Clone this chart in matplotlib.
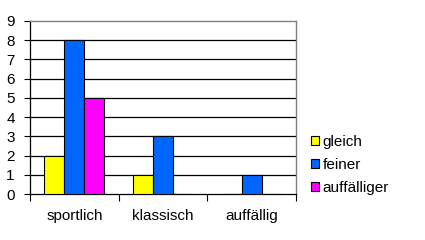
import matplotlib
matplotlib.use("Agg")
import matplotlib.pyplot as plt
import numpy as np
from matplotlib.patches import Patch

categories = ["sportlich", "klassisch", "auffällig"]
series_names = ["gleich", "feiner", "auffälliger"]
gleich = [2, 1, 0]
feiner = [8, 3, 1]
auffaelliger = [5, 0, 0]
values = [gleich, feiner, auffaelliger]
colors = ["#FFFF00", "#0066FF", "#FF00FF"]

plt.rcParams["font.family"] = ["Liberation Sans", "DejaVu Sans"]
fs = 11

fig = plt.figure(figsize=(4.25, 2.4), dpi=100)
ax = fig.add_axes([30/425, 1-194/240, 266/425, 173/240])

x = np.arange(len(categories))
w = 0.225
for i, (vals, c) in enumerate(zip(values, colors)):
    ax.bar(x + (i - 1) * w, vals, width=w, color=c, edgecolor="black", linewidth=0.8, zorder=3)

ax.set_xlim(-0.5, 2.5)
ax.set_ylim(0, 9)
ax.set_yticks(range(0, 10))
ax.tick_params(axis="y", labelsize=fs, length=4, width=0.8, pad=7)
ax.set_xticks(x)
ax.set_xticklabels(categories, fontsize=fs)
ax.tick_params(axis="x", which="major", length=0, pad=11)
ax.set_xticks([-0.5, 0.5, 1.5, 2.5], minor=True)
ax.tick_params(axis="x", which="minor", length=5, width=0.8)

for yv in range(1, 9):
    ax.axhline(yv, color="black", linewidth=0.9, zorder=1)

for s in ["left", "bottom"]:
    ax.spines[s].set_color("black")
    ax.spines[s].set_linewidth(0.9)
for s in ["top", "right"]:
    ax.spines[s].set_color("#808080")
    ax.spines[s].set_linewidth(1.0)

handles = [Patch(facecolor=c, edgecolor="black", linewidth=0.8) for c in colors]
fig.legend(handles, series_names, loc="center left",
           bbox_to_anchor=(311/425, 1-165/240), frameon=False, fontsize=fs,
           handlelength=0.5, handleheight=0.5, handletextpad=0.25, labelspacing=0.6,
           borderpad=0, borderaxespad=0)

fig.savefig("out.png", dpi=100)
